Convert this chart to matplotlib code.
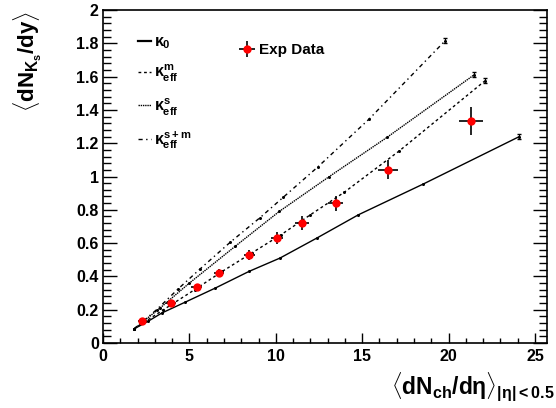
import matplotlib
matplotlib.use("Agg")
import matplotlib.pyplot as plt
from matplotlib.lines import Line2D
from matplotlib.ticker import MultipleLocator

plt.rcParams['font.family'] = ['Liberation Sans', 'DejaVu Sans']
plt.rcParams['font.weight'] = 'bold'
plt.rcParams['mathtext.fontset'] = 'custom'
plt.rcParams['mathtext.rm'] = 'Liberation Sans:bold'
plt.rcParams['mathtext.it'] = 'Liberation Sans:bold'
plt.rcParams['mathtext.bf'] = 'Liberation Sans:bold'
plt.rcParams['mathtext.sf'] = 'Liberation Sans:bold'

# Experimental data
exp_x = [2.27, 3.92, 5.42, 6.73, 8.47, 10.08, 11.53, 13.47, 16.51, 21.28]
exp_y = [0.132, 0.24, 0.336, 0.42, 0.528, 0.63, 0.72, 0.84, 1.04, 1.335]
exp_xerr = [0.25, 0.28, 0.3, 0.3, 0.33, 0.36, 0.39, 0.43, 0.58, 0.7]
exp_yerr = [0.015, 0.018, 0.02, 0.022, 0.028, 0.035, 0.042, 0.045, 0.058, 0.083]

# Models
k0_x = [1.8, 2.6, 3.4, 4.75, 6.5, 8.45, 10.24, 12.37, 14.78, 18.54, 24.1]
k0_y = [0.085, 0.13, 0.18, 0.245, 0.33, 0.43, 0.51, 0.63, 0.77, 0.955, 1.24]

km_x = [1.8, 3.5, 5.3, 6.9, 8.6, 10.3, 12.0, 13.96, 17.15, 22.1]
km_y = [0.085, 0.2, 0.32, 0.43, 0.54, 0.65, 0.77, 0.905, 1.154, 1.574]

ks_x = [1.8, 3.3, 5.0, 7.64, 10.2, 13.1, 16.45, 21.47]
ks_y = [0.085, 0.21, 0.36, 0.58, 0.79, 1.0, 1.236, 1.61]

ksm_x = [1.8, 3.1, 4.36, 5.61, 7.35, 9.09, 10.43, 12.46, 15.4, 19.8]
ksm_y = [0.085, 0.2, 0.326, 0.444, 0.604, 0.753, 0.875, 1.06, 1.345, 1.815]

fig = plt.figure(figsize=(5.56, 4.08), dpi=100)
ax = fig.add_axes([0.1853, 0.1593, 0.7986, 0.8162])

lw = 1.0
models = [
    (k0_x, k0_y, '-', r'$\kappa_{0}$'),
    (km_x, km_y, (0, (2, 2)), r'$\kappa^{m}_{eff}$'),
    (ks_x, ks_y, (0, (1, 0.6)), r'$\kappa^{s}_{eff}$'),
    (ksm_x, ksm_y, (0, (3, 2.5, 1, 2.5)), r'$\kappa^{s+m}_{eff}$'),
]
handles = []
for xs, ys, ls, lab in models:
    ax.plot(xs, ys, color='black', linestyle=ls, lw=lw, marker='o', markersize=2.2,
            markeredgewidth=0, zorder=2)
    ax.errorbar([xs[-1]], [ys[-1]], yerr=[0.015], color='black', lw=0.8, capsize=1.5,
                fmt='none', zorder=2)
    handles.append(Line2D([], [], color='black', linestyle=ls, lw=1.6 if ls == '-' else 1.0))

ax.errorbar(exp_x, exp_y, xerr=exp_xerr, yerr=exp_yerr, fmt='o', color='red',
            markersize=6, ecolor='black', elinewidth=1.2, capsize=0, zorder=4,
            markeredgewidth=0)

leg1 = ax.legend(handles, [m[3] for m in models], loc='upper left',
                 bbox_to_anchor=(0.065, 0.945), frameon=False, fontsize=11.5,
                 handlelength=0.8, handletextpad=0.2, labelspacing=0.75,
                 borderaxespad=0)
ax.add_artist(leg1)
exp_handle = ax.errorbar([], [], xerr=[], yerr=[], fmt='o', color='red', markersize=6,
                         ecolor='black', elinewidth=1.2, capsize=0, markeredgewidth=0)
ax.legend([exp_handle], ['Exp Data'], loc='upper left', bbox_to_anchor=(0.29, 0.918),
          frameon=False, fontsize=11, handlelength=1.2, handletextpad=0.2,
          borderaxespad=0)

ax.set_xlim(0, 25.7)
ax.set_ylim(0, 2.0)
ax.xaxis.set_major_locator(MultipleLocator(5))
ax.xaxis.set_minor_locator(MultipleLocator(1))
ax.yaxis.set_minor_locator(MultipleLocator(0.04))
ax.set_yticks([0, 0.2, 0.4, 0.6, 0.8, 1, 1.2, 1.4, 1.6, 1.8, 2])
ax.set_yticklabels(['0', '0.2', '0.4', '0.6', '0.8', '1', '1.2', '1.4', '1.6', '1.8', '2'])
ax.tick_params(axis='both', which='both', direction='in', labelsize=11.5, width=1.0)
ax.tick_params(axis='y', which='major', length=10, left=True, right=True, pad=3)
ax.tick_params(axis='y', which='minor', length=5.5, left=True, right=True)
ax.tick_params(axis='x', which='major', length=7, top=False, pad=4)
ax.tick_params(axis='x', which='minor', length=3.5, top=False)
for lab in ax.get_xticklabels() + ax.get_yticklabels():
    lab.set_fontweight('bold')
for sp in ax.spines.values():
    sp.set_linewidth(1.2)

fig.text(0.05, 0.85, r'$\langle dN_{K_{s}}/dy\rangle$', rotation=90, ha='center', va='center',
         fontsize=16)
fig.text(0.703, 0.035, r'$\langle dN_{ch}/d\eta\rangle_{|\eta|<0.5}$', ha='left', va='baseline',
         fontsize=16.5)

fig.savefig('out.png', dpi=100)
